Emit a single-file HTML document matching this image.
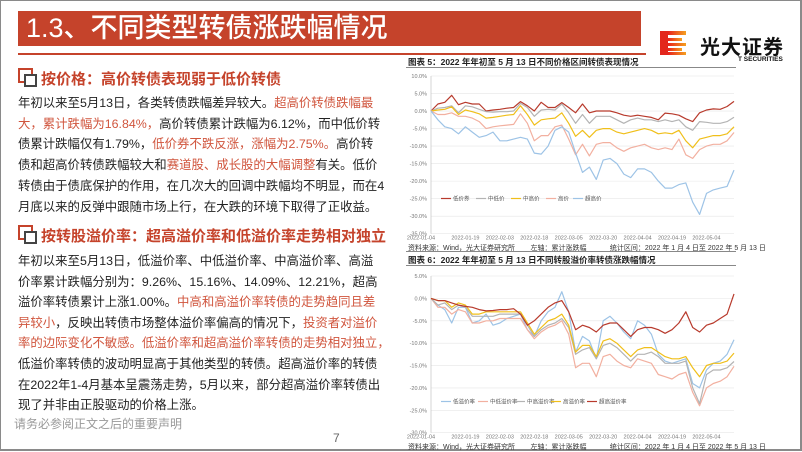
<!DOCTYPE html>
<html><head><meta charset="utf-8">
<style>
body{margin:0;width:802px;height:451px;overflow:hidden;background:#fff;font-family:"Liberation Sans","Noto Sans CJK SC",sans-serif;}
#slide{position:absolute;left:0;top:0;width:799px;height:448px;border:1px solid #8a8a8a;border-right:2px solid #8a8a8a;border-bottom:2px solid #8a8a8a;}
.abs{position:absolute;}
.title-bar{left:17px;top:10px;width:623px;height:35px;background:#c5432b;color:#fff;font-size:27px;line-height:35px;padding-left:8px;box-sizing:border-box;font-weight:500;}
.red-line{left:17px;top:52px;width:628px;height:2px;background:#c5432b;}
.h{font-size:15px;font-weight:bold;color:#c5432b;left:40px;white-space:nowrap;}
.icon{width:11px;height:11px;border:2px solid #c5432b;}
.icon2{width:9px;height:9px;border:2px solid #444;background:#fff;}
.p{left:17px;font-size:12.4px;color:#222;white-space:nowrap;}
.r{color:#d0553d;}
.ct{font-size:8.5px;font-weight:bold;color:#222;left:407px;white-space:nowrap;}
.src{font-size:7px;color:#333;left:407px;white-space:nowrap;}
</style></head><body>
<div id="slide">
<div class="abs title-bar">1.3、不同类型转债涨跌幅情况</div>
<div class="abs red-line"></div>

<div class="abs" style="left:659px;top:28px;width:140px;height:36px;">
  <svg width="30" height="26" style="position:absolute;left:0;top:2px">
    <defs><linearGradient id="lg" x1="0" x2="1"><stop offset="0" stop-color="#e8231c"/><stop offset="1" stop-color="#f5a020"/></linearGradient></defs>
    <rect x="0" y="0" width="8" height="24" fill="#e3261c"/>
    <rect x="8" y="0" width="18" height="4" fill="url(#lg)"/><rect x="8" y="7" width="14" height="3" fill="url(#lg)"/>
    <rect x="8" y="12" width="18" height="3" fill="url(#lg)"/><rect x="8" y="17" width="14" height="3" fill="url(#lg)"/>
    <rect x="8" y="21" width="18" height="3" fill="url(#lg)"/>
  </svg>
  <div class="abs" style="left:40px;top:2px;font-size:20px;font-weight:bold;color:#111;letter-spacing:1px;">光大证券</div>
  <div class="abs" style="left:78px;top:27px;font-size:6.5px;font-weight:bold;color:#111;">T SECURITIES</div>
</div>

<div class="abs icon" style="left:17px;top:67px;"></div>
<div class="abs icon2" style="left:23px;top:73px;"></div>
<div class="abs h" style="top:67px;">按价格：高价转债表现弱于低价转债</div>
<div class="abs p" style="top:92px;line-height:20.7px;">
年初以来至5月13日，各类转债跌幅差异较大。<span class="r">超高价转债跌幅最</span><br>
<span class="r">大，累计跌幅为16.84%，</span>高价转债累计跌幅为6.12%，而中低价转<br>
债累计跌幅仅有1.79%，<span class="r">低价券不跌反涨，涨幅为2.75%。</span>高价转<br>
债和超高价转债跌幅较大和<span class="r">赛道股、成长股的大幅调整</span>有关。低价<br>
转债由于债底保护的作用，在几次大的回调中跌幅均不明显，而在4<br>
月底以来的反弹中跟随市场上行，在大跌的环境下取得了正收益。</div>

<div class="abs icon" style="left:17px;top:224px;"></div>
<div class="abs icon2" style="left:23px;top:230px;"></div>
<div class="abs h" style="top:224px;">按转股溢价率：超高溢价率和低溢价率走势相对独立</div>
<div class="abs p" style="top:250px;line-height:20.6px;">
年初以来至5月13日，低溢价率、中低溢价率、中高溢价率、高溢<br>
价率累计跌幅分别为：9.26%、15.16%、14.09%、12.21%，超高<br>
溢价率转债累计上涨1.00%。<span class="r">中高和高溢价率转债的走势趋同且差</span><br>
<span class="r">异较小</span>，反映出转债市场整体溢价率偏高的情况下，<span class="r">投资者对溢价</span><br>
<span class="r">率的边际变化不敏感。低溢价率和超高溢价率转债的走势相对独立，</span><br>
低溢价率转债的波动明显高于其他类型的转债。超高溢价率的转债<br>
在2022年1-4月基本呈震荡走势，5月以来，部分超高溢价率转债出<br>
现了并非由正股驱动的价格上涨。</div>
<div class="abs" style="left:13px;top:414px;font-size:12px;color:#999;">请务必参阅正文之后的重要声明</div>
<div class="abs" style="left:332px;top:430px;font-size:12px;color:#666;">7</div>

<div class="abs ct" style="top:55px;">图表 5：2022 年年初至 5 月 13 日不同价格区间转债表现情况</div>
<div class="abs" style="left:405px;top:66px;width:330px;height:1px;background:#888;"></div>
<svg class="abs" id="c5" style="left:400px;top:66px" width="340" height="178"></svg>
<div class="abs src" style="top:242px;">资料来源：Wind，光大证券研究所&nbsp;&nbsp;&nbsp;&nbsp;&nbsp;&nbsp;&nbsp;&nbsp;左轴：累计涨跌幅&nbsp;&nbsp;&nbsp;&nbsp;&nbsp;&nbsp;&nbsp;&nbsp;&nbsp;&nbsp;&nbsp;&nbsp;统计区间：2022 年 1 月 4 日至 2022 年 5 月 13 日</div>
<div class="abs" style="left:405px;top:250px;width:330px;height:1px;background:#888;"></div>

<div class="abs ct" style="top:253px;">图表 6：2022 年年初至 5 月 13 日不同转股溢价率转债涨跌幅情况</div>
<div class="abs" style="left:405px;top:264px;width:330px;height:1px;background:#888;"></div>
<svg class="abs" id="c6" style="left:400px;top:265px" width="340" height="178"></svg>
<div class="abs src" style="top:441px;">资料来源：Wind，光大证券研究所&nbsp;&nbsp;&nbsp;&nbsp;&nbsp;&nbsp;&nbsp;&nbsp;左轴：累计涨跌幅&nbsp;&nbsp;&nbsp;&nbsp;&nbsp;&nbsp;&nbsp;&nbsp;&nbsp;&nbsp;&nbsp;&nbsp;统计区间：2022 年 1 月 4 日至 2022 年 5 月 13 日</div>
</div>

<script>
const dateLabels = ["2022-01-04","2022-01-19","2022-02-03","2022-02-18","2022-03-05","2022-03-20","2022-04-04","2022-04-19","2022-05-04"];
const c5Names = ["低价券","中低价","中高价","高价","超高价"];
const c5Low = [0,2,2.5,4.5,1.8,2.5,2,2,0,0.3,0.5,0.8,1,2.7,1.5,0,2.5,1,1,2.4,1,-0.5,2,-0.5,0,0,0,-0.5,-1.2,-1.5,-1.2,-1.5,-1.8,-2.5,-0.6,-0.8,-1.2,-2.2,-3,-0.5,0.3,0.6,0.5,1.3,2.75];
const c5MidLow = [0,0.8,1,1.5,-0.5,1.5,1.2,0.5,-0.2,-0.3,-0.2,-0.2,0,2.2,1,-1.5,0.3,0.5,0.3,2,-0.5,-3.5,-1,-3.5,-1.5,-1.5,-1.5,-2.5,-3.5,-2.5,-2,-2.5,-2.5,-3,-2.5,-3,-2.5,-4.5,-5.5,-3,-3.2,-3.5,-3.5,-3,-1.79];
const c5MidHigh = [0,0.3,0.5,1.2,-1,0.3,-0.2,-0.8,-2,-1.8,-1.5,-1.2,-1,1.5,-1,-4,-2.5,-2.2,-2,-0.5,-3.5,-7.2,-5.5,-7.5,-5.5,-5,-5,-6,-6.5,-6,-5.5,-5,-5.5,-6.5,-6.2,-6.5,-5.5,-8.5,-10.5,-8,-7.5,-7,-7,-6.5,-4.5];
const c5High = [0,-1,-1,-0.5,-1.5,-1.5,-2,-3,-5,-4.5,-4.2,-4,-3.8,-0.8,-3.5,-8.5,-7,-7,-4.5,-4,-8,-12.5,-9.5,-12.8,-9.5,-9,-9,-10.5,-11.5,-10.5,-10,-9.5,-10.5,-11,-10.5,-11,-8,-12.5,-13.5,-11,-10,-9.5,-9.5,-8.5,-6.12];
const c5SuperHigh = [0,-2.5,-4.5,-5,-6.5,-4.5,-6,-7.5,-7,-6,-8.5,-8.5,-8,-7.5,-8,-12,-12.3,-10,-5.5,-4.5,-6,-12,-17.5,-16,-19.5,-14,-13.5,-15,-18,-19,-16.5,-16.5,-17.5,-20,-22,-22,-21,-20.5,-26,-29.5,-23.5,-22.5,-22,-21.5,-16.84];
const c5Ticks = ["10.0%","5.0%","0.0%","-5.0%","-10.0%","-15.0%","-20.0%","-25.0%","-30.0%","-35.0%"];

const c6Names = ["低溢价率","中低溢价率","中高溢价率","高溢价率","超高溢价率"];
const c6Low = [0,-1.5,-2.5,-5.5,-2,-2,-5.5,-5,-3.5,-6,-5.5,-4.5,-4,-3.5,-7,-8.5,-5,-3,-2,1.5,-3,-12,-8.5,-9.5,-13.5,-5,-4,-5.5,-7.5,-9,-5,-6,-8,-12.5,-14,-14.5,-14,-13.5,-19,-20,-16,-14.5,-14,-12.5,-9.26];
const c6MidLow = [0,-2,-2,-3.5,-2.5,-3,-5.5,-5.5,-5,-5,-4.5,-4.5,-4.5,-4.5,-7,-9,-7.5,-6.5,-6,-5,-8,-15.5,-14.5,-14.5,-17.5,-13,-12.5,-14,-15,-15.5,-13.5,-14,-14.5,-17,-17.5,-18,-17,-16.5,-21,-24,-20,-19,-18.5,-17.5,-15.16];
const c6MidHigh = [0,-1.5,-1,-2.5,-1.5,-2,-4,-4,-4,-4,-3.5,-3.5,-3.5,-3.5,-6,-8.5,-7,-6,-5.5,-4.5,-6.5,-12.5,-11.5,-11,-13.5,-10.5,-10,-11,-12.5,-14,-12.5,-12.5,-12,-13,-14.5,-14.5,-14.5,-14,-20,-23.5,-17,-16,-16,-15.5,-14.09];
const c6High = [0,-0.5,-0.5,-2,-1,-1.5,-3.5,-3.5,-3,-3,-3,-3,-3,-3,-5.5,-8,-6.5,-5,-4.5,-3.5,-6,-12,-10.5,-10.5,-13,-9.5,-9,-10,-11.5,-13,-11.5,-11,-11,-12,-13,-13.5,-13.5,-13,-15.5,-17.5,-15,-14.5,-14.5,-14,-12.21];
const c6SuperHigh = [0,-0.5,-0.5,-1,-1.5,-1.8,-2,-2.5,-2.8,-2.7,-2.5,-2.5,-2.3,-3.5,-6,-5,-3.5,-2,-1,-0.5,-3,-7,-6,-6.5,-7.5,-6,-5.5,-5.5,-7,-8.5,-7,-6.5,-6.5,-7,-7.8,-7,-5.5,-3,-6.5,-7.5,-6,-5.5,-4.5,-3.5,1.0];
const c6Ticks = ["5.0%","0.0%","-5.0%","-10.0%","-15.0%","-20.0%","-25.0%","-30.0%"];

const NS="http://www.w3.org/2000/svg";
function mk(svg,tag,attrs){const e=document.createElementNS(NS,tag);for(const k in attrs)e.setAttribute(k,attrs[k]);svg.appendChild(e);return e;}

function draw(svgId, ticks, yMax, yMin, top, bottom, series, names, colors, legendY, legendXs){
  const svg=document.getElementById(svgId);
  const x0=30,x1=333;
  const n=series[0].length;
  const xs=i=>x0+(x1-x0)*i/(n-1);
  const ys=v=>top+(yMax-v)/(yMax-yMin)*(bottom-top);
  ticks.forEach((t,i)=>{
    const v=yMax-i*5;
    const g=mk(svg,'line',{x1:x0,x2:x1,y1:ys(v),y2:ys(v),stroke:'#e6e6e6','stroke-width':0.6});
    
    
    const tx=mk(svg,'text',{x:x0-4,y:ys(v)+2,'text-anchor':'end','font-size':5.5,fill:'#777'});
    tx.textContent=t;
    
    
  });
  const ax=mk(svg,'line',{x1:x0,x2:x0,y1:top,y2:bottom,stroke:'#bbb','stroke-width':0.6});
  
  
  dateLabels.forEach((d,i)=>{
    const tx=mk(svg,'text',{x:Math.max(xs(i*5),x0-10)+ (i===0?-10:0),y:bottom+6,'text-anchor':'middle','font-size':5.5,fill:'#777'});
    tx.textContent=d;
    
    
  });
  series.forEach((s,k)=>{
    const p=mk(svg,'polyline',{points:s.map((v,i)=>xs(i).toFixed(1)+','+ys(v).toFixed(1)).join(' '),fill:'none',stroke:colors[k],'stroke-width':1.2,'stroke-linejoin':'round'});
    
    
  });
  names.forEach((nm,k)=>{
    const lx=legendXs[k];
    const l=mk(svg,'line',{x1:lx,x2:lx+10,y1:legendY,y2:legendY,stroke:colors[k],'stroke-width':1.2});
    
    
    const t=mk(svg,'text',{x:lx+12,y:legendY+2,'font-size':5.5,fill:'#555'});
    t.textContent=nm;
    
    
  });
}
draw('c5',c5Ticks,10,-35,9,166.7,[c5Low,c5MidLow,c5MidHigh,c5High,c5SuperHigh],c5Names,
  ['#b83a2c','#b4b4b4','#f0bf1a','#f2b0a0','#9dc3e6'],131.5,[40,75,110,145,172]);
draw('c6',c6Ticks,5,-30,10,166.7,[c6Low,c6MidLow,c6MidHigh,c6High,c6SuperHigh],c6Names,
  ['#9dc3e6','#f2b0a0','#b4b4b4','#f0bf1a','#b83a2c'],135.5,[40,77,114,150,186]);
</script>
</body></html>
